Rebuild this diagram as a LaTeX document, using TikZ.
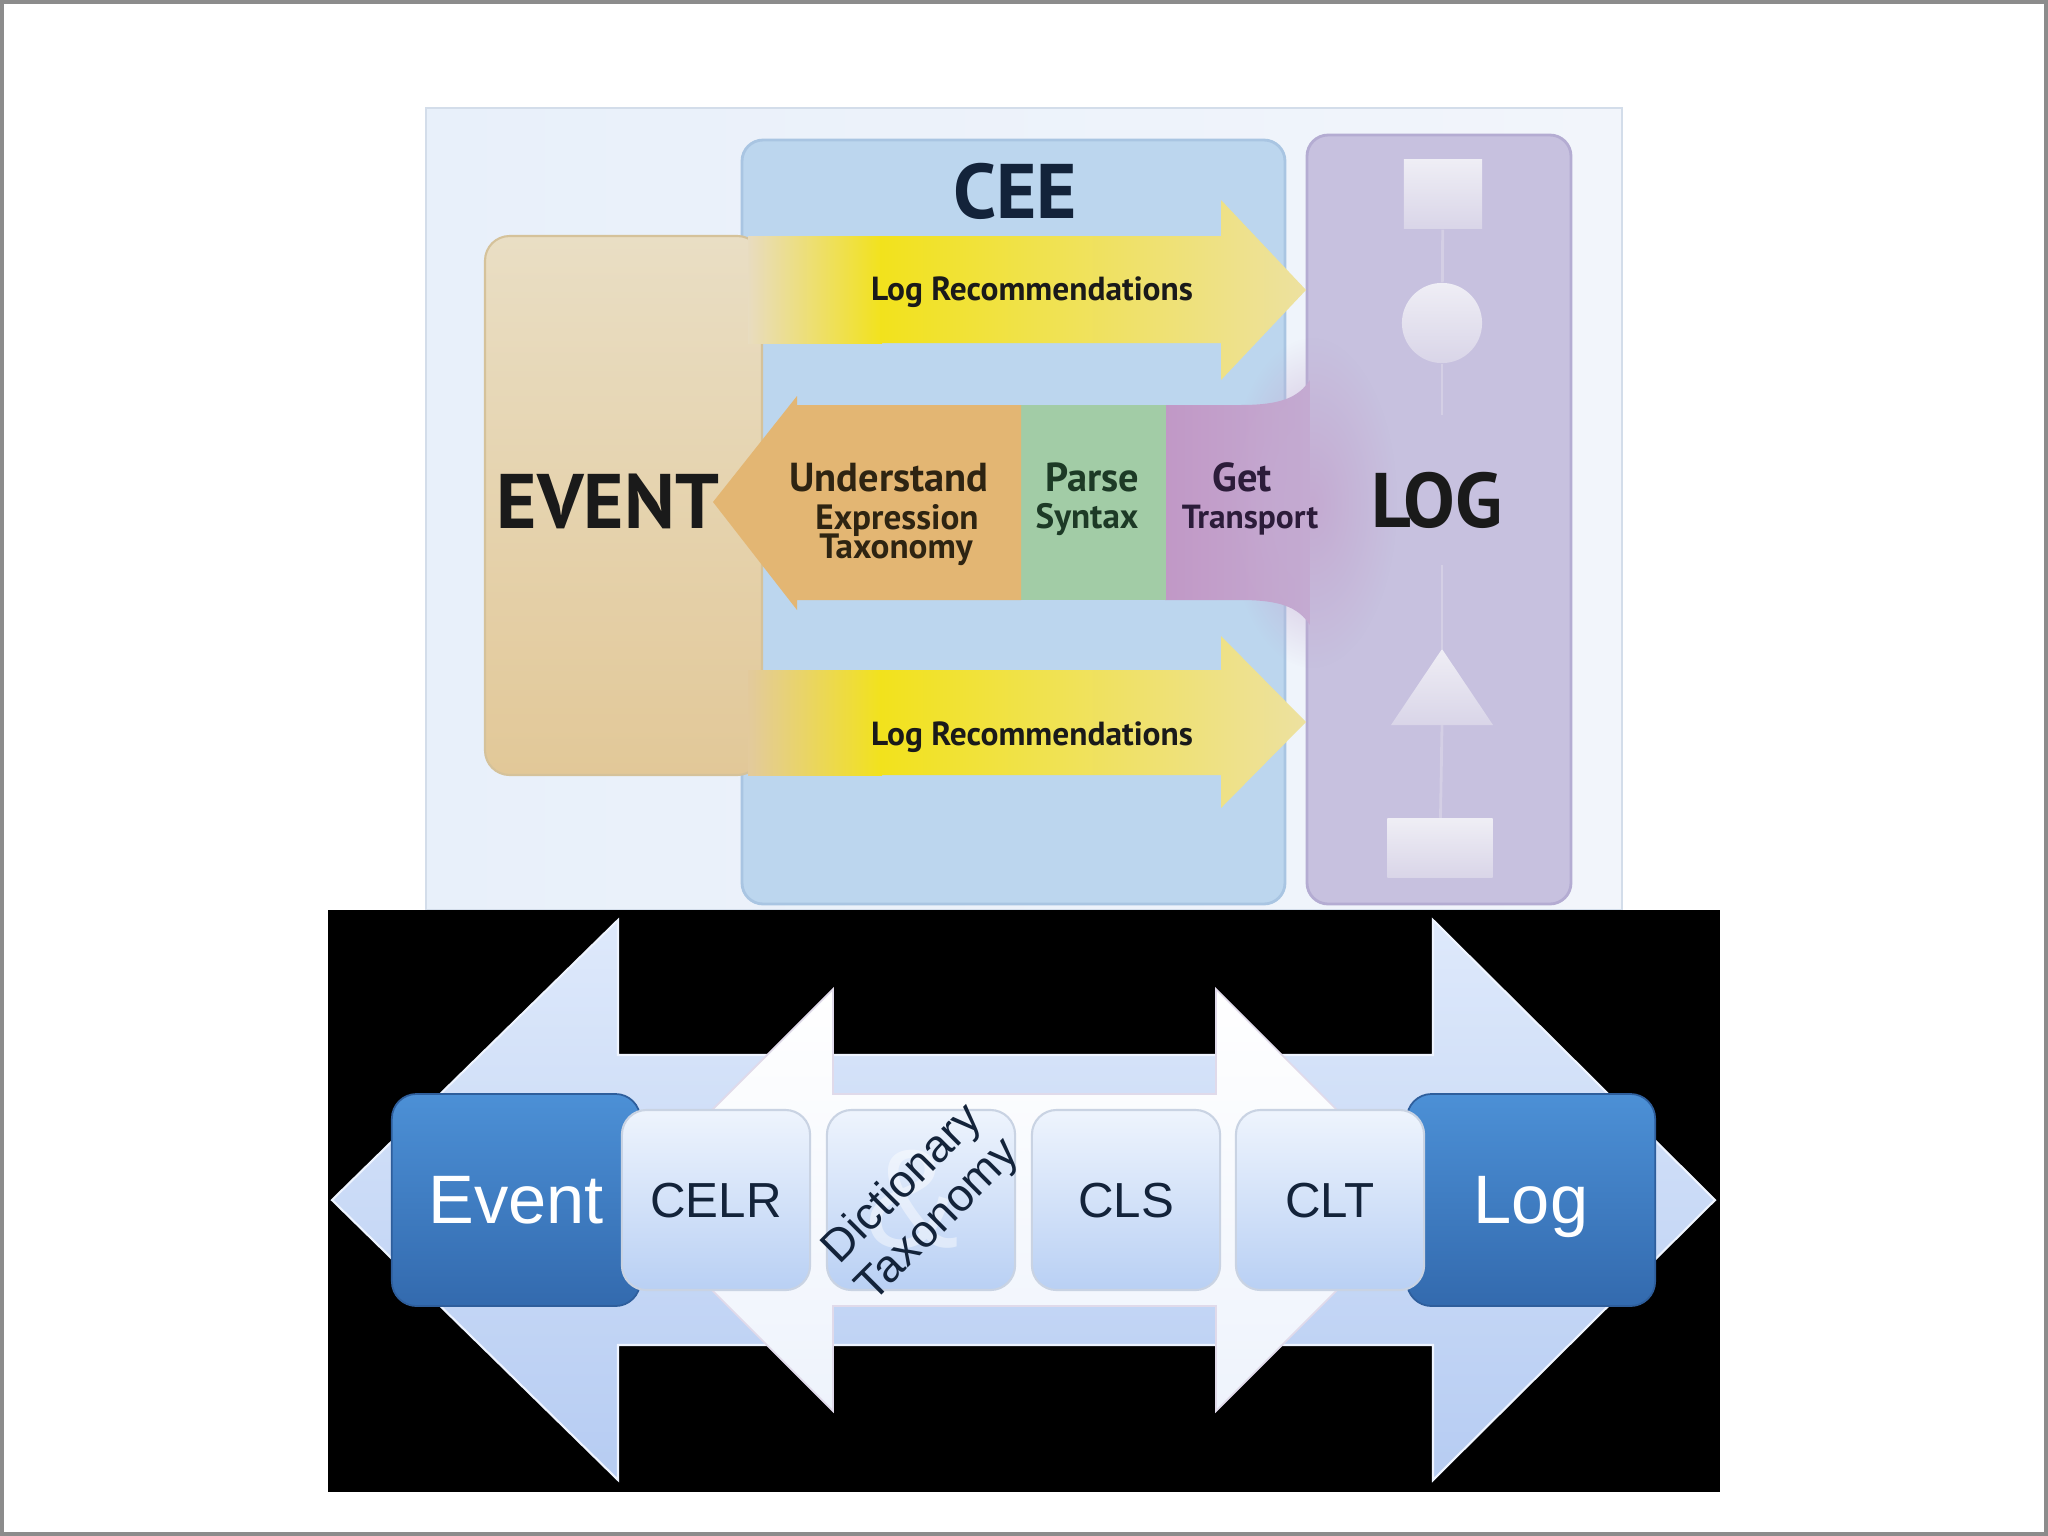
\documentclass[tikz,border=0pt]{standalone}
\usepackage{fontspec}
\newfontfamily\topfont{PT Sans}
\newfontfamily\botfont{Liberation Sans}
\usetikzlibrary{fadings}
\tikzfading[name=softglow, inner color=transparent!0, outer color=transparent!100]
\definecolor{panelL}{HTML}{E8F0FA}
\definecolor{panelR}{HTML}{F2F5FB}
\definecolor{panelline}{HTML}{D3DDEA}
\definecolor{ceeblue}{HTML}{BCD6EE}
\definecolor{ceeborder}{HTML}{A9C5E2}
\definecolor{lavender}{HTML}{C7C1DF}
\definecolor{lavborder}{HTML}{B4ACD2}
\definecolor{tantop}{HTML}{E9DEC4}
\definecolor{tanbot}{HTML}{E2C898}
\definecolor{tanline}{HTML}{D5C29A}
\definecolor{yel}{HTML}{F2E21C}
\definecolor{paleyel}{HTML}{EDE1A0}
\definecolor{orangeA}{HTML}{E3B673}
\definecolor{greenA}{HTML}{A2CCA6}
\definecolor{purpA}{HTML}{C198C6}
\definecolor{navy}{HTML}{13233A}
\definecolor{txtdark}{HTML}{1A1A1A}
\definecolor{browntxt}{HTML}{2E2412}
\definecolor{greentxt}{HTML}{1D3A26}
\definecolor{purptxt}{HTML}{2C1C3A}
\definecolor{shapetop}{HTML}{EFEEF5}
\definecolor{shapebot}{HTML}{D9D5E8}
\definecolor{loglinec}{HTML}{D4CFE5}
\definecolor{bigtop}{HTML}{DEE9FB}
\definecolor{bigbot}{HTML}{B6CCF2}
\definecolor{bigline}{HTML}{EEF4FF}
\definecolor{whitebot}{HTML}{EEF3FC}
\definecolor{whiteline}{HTML}{E0DAEA}
\definecolor{darktop}{HTML}{4C90D6}
\definecolor{darkbot}{HTML}{336AAE}
\definecolor{darkline}{HTML}{2E5E9C}
\definecolor{lighttop}{HTML}{EEF4FD}
\definecolor{lightbot}{HTML}{B9D0F4}
\definecolor{lightline}{HTML}{C9D3E3}
\definecolor{framegray}{HTML}{8C8C8C}
\begin{document}
\begin{tikzpicture}[x=0.01cm,y=-0.01cm,
  lbl/.style={inner sep=0pt, anchor=base},
  bigcap/.style={lbl, font=\topfont\bfseries\fontsize{22pt}{24pt}\selectfont},
  rec/.style={lbl, font=\topfont\bfseries\fontsize{9.5pt}{11pt}\selectfont, text=txtdark},
  headw/.style={lbl, font=\topfont\bfseries\fontsize{11.5pt}{13pt}\selectfont},
  subw/.style={lbl, font=\topfont\bfseries\fontsize{10pt}{11pt}\selectfont},
  logshape/.style={inner sep=0pt, top color=shapetop, bottom color=shapebot, draw=none},
  logline/.style={draw=loglinec, line width=0.8pt},
  darkbox/.style={rounded corners=7pt, top color=darktop, bottom color=darkbot, draw=darkline, line width=0.5pt, minimum width=70.6pt, minimum height=60.3pt, inner sep=0pt, text=white, text depth=0pt, font=\botfont\fontsize{19.5pt}{22pt}\selectfont},
  lightbox/.style={rounded corners=7pt, top color=lighttop, bottom color=lightbot, draw=lightline, line width=0.6pt, minimum width=53.5pt, minimum height=51.2pt, inner sep=0pt, text=navy, text depth=0pt, font=\botfont\fontsize{14pt}{16pt}\selectfont},
]
\useasboundingbox (0,0) rectangle (2048,1536);
\fill[white] (0,0) rectangle (2048,1536);
\draw[framegray, line width=1pt] (2,2) rectangle (2046,1534);

% ---------------- top panel ----------------
\path[left color=panelL, right color=panelR, draw=panelline, line width=0.5pt] (426,108) rectangle (1622,910);
\path[fill=ceeblue, draw=ceeborder, line width=0.8pt, rounded corners=6pt] (742,140) rectangle (1285,904);
\path[fill=lavender, draw=lavborder, line width=0.8pt, rounded corners=6pt] (1307,135) rectangle (1571,904);

% log box inner connectors and shapes
\node[logshape, minimum width=22.2pt, minimum height=19.9pt] (sqtop) at (1443,194) {};
\node[logshape, circle, minimum size=22.8pt] (circ) at (1442,323) {};
\coordinate (triapex) at (1442,649);
\coordinate (tribase) at (1442,725);
\node[logshape, minimum width=29.9pt, minimum height=16.8pt] (rectbot) at (1440,848) {};
\coordinate (lnA) at (1442,415);
\coordinate (lnB) at (1442,565);
\draw[logline] (sqtop) -- (circ);
\draw[logline] (circ) -- (lnA);
\draw[logline] (lnB) -- (triapex);
\draw[logline] (tribase) -- (rectbot);
\path[logshape] (triapex) -- (1493,725) -- (1391,725) -- cycle;

% event box
\path[top color=tantop, bottom color=tanbot, draw=tanline, line width=0.6pt, rounded corners=7pt] (485,236) rectangle (762,775);

% middle left-pointing arrow (purple part flares into the LOG box)
\path[left color=purpA, middle color=purpA!92!lavender, right color=purpA!55!lavender]
  (1165,405) -- (1240,405) .. controls (1280,405) and (1298,398) .. (1310,380)
  -- (1310,625) .. controls (1298,607) and (1280,600) .. (1240,600) -- (1165,600) -- cycle;
\fill[purpA!55!lavender, path fading=softglow] (1312,503) ellipse (85 and 165);
\fill[greenA] (1020,405) rectangle (1166,600);
\fill[orangeA] (713,502) -- (797,396) -- (797,405) -- (1021,405) -- (1021,600) -- (797,600) -- (797,610) -- cycle;

% top yellow arrow
\path[left color=tanbot!10!tantop, right color=yel] (748,236) rectangle (882,343);
\path[left color=yel, middle color=yel, right color=paleyel] (880,236) -- (1221,236) -- (1221,200) -- (1306,290) -- (1221,380) -- (1221,343) -- (880,343) -- cycle;
% bottom yellow arrow
\path[left color=tanbot!90!tantop, right color=yel] (748,670) rectangle (882,775);
\path[left color=yel, middle color=yel, right color=paleyel] (880,670) -- (1221,670) -- (1221,636) -- (1306,722) -- (1221,808) -- (1221,775) -- (880,775) -- cycle;

% top texts
\node[bigcap, text=navy] (cee) at (1015,218) {CEE};
\node[rec] (rec1) at (1032,300) {Log Recommendations};
\node[rec] (rec2) at (1032,745) {Log Recommendations};
\node[bigcap, text=txtdark] (event) at (608,528) {EVENT};
\node[bigcap, text=txtdark] (log) at (1437,527) {LOG};
\node[headw, text=browntxt] (und) at (889,491) {Understand};
\node[subw, text=browntxt] (expr) at (897,529) {Expression};
\node[subw, text=browntxt] (taxo) at (896,558) {Taxonomy};
\node[headw, text=greentxt] (parse) at (1092,491) {Parse};
\node[subw, text=greentxt] (syn) at (1087,528) {Syntax};
\node[headw, text=purptxt] (get) at (1242,491) {Get};
\node[lbl, font=\topfont\bfseries\fontsize{9.5pt}{11pt}\selectfont, text=purptxt] (trans) at (1250,528) {Transport};

% ---------------- bottom panel ----------------
\fill[black] (328,910) rectangle (1720,1492);
\path[top color=bigtop, bottom color=bigbot, draw=bigline, line width=0.6pt]
  (332,1200) -- (618,920) -- (618,1055) -- (1433,1055) -- (1433,920) -- (1715,1200)
  -- (1433,1480) -- (1433,1345) -- (618,1345) -- (618,1480) -- cycle;
\path[top color=white, bottom color=whitebot, draw=whiteline, line width=0.5pt]
  (622,1200) -- (833,989) -- (833,1094) -- (1216,1094) -- (1216,989) -- (1427,1200)
  -- (1216,1411) -- (1216,1306) -- (833,1306) -- (833,1411) -- cycle;

\node[darkbox] (eventbox) at (516,1200) {Event};
\node[darkbox] (logbox) at (1531,1200) {Log};
\node[lightbox] (celr) at (716,1200) {CELR};
\node[lightbox] (dict) at (921,1200) {};
\node[inner sep=0pt, text=white, opacity=0.45, font=\botfont\fontsize{40pt}{40pt}\selectfont] (amp) at (912,1200) {\&};
\node[inner sep=0pt, rotate=45, align=center, text=navy, font=\botfont\fontsize{13pt}{14.5pt}\selectfont] (dicttxt) at (921,1203) {Dictionary\\Taxonomy};
\node[lightbox] (cls) at (1126,1200) {CLS};
\node[lightbox] (clt) at (1330,1200) {CLT};
\end{tikzpicture}
\end{document}
